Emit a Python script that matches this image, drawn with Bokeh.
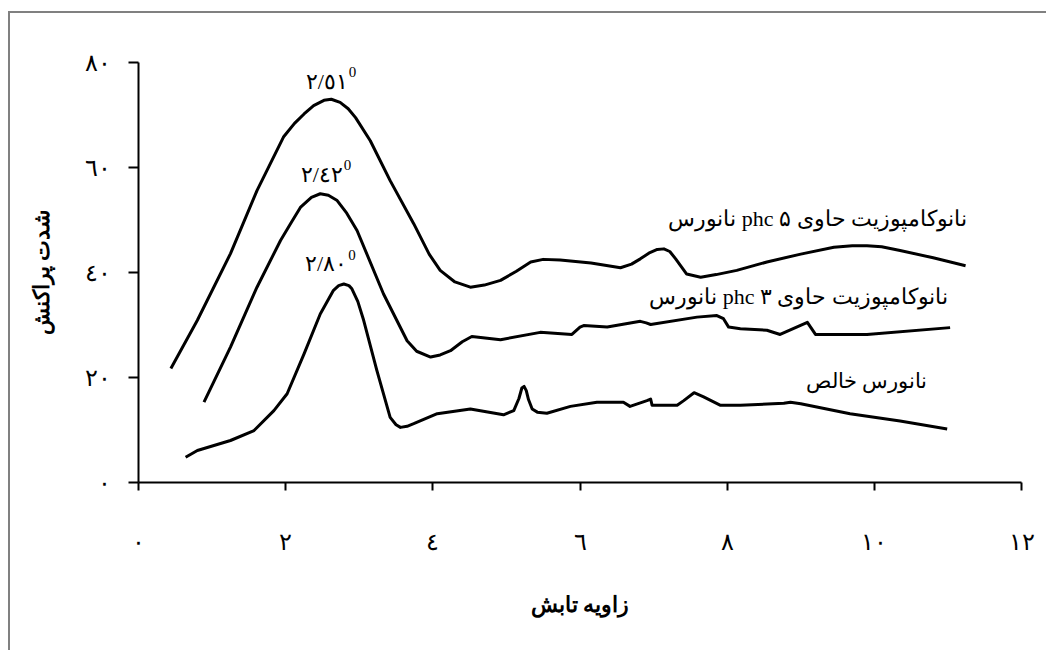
from bokeh.plotting import figure
from bokeh.models import Range1d, FixedTicker
from bokeh.core.properties import value
from bokeh.embed import file_html
from bokeh.resources import INLINE

# ---- data ----
x_5phc = [0.44, 0.80, 1.25, 1.61, 1.97, 2.12, 2.25, 2.38, 2.52, 2.62, 2.74, 2.85, 2.95, 3.15, 3.42,
          3.74, 3.95, 4.10, 4.30, 4.51, 4.70, 4.92, 5.13, 5.33, 5.50, 5.73, 6.15, 6.55, 6.70, 6.82,
          6.95, 7.05, 7.14, 7.22, 7.30, 7.45, 7.64, 7.85, 8.13, 8.54, 9.00, 9.45, 9.70, 9.90, 10.10,
          10.35, 10.80, 11.24]
y_5phc = [21.7, 30.9, 43.6, 55.6, 65.8, 68.4, 70.2, 71.8, 72.8, 73.0, 72.4, 71.2, 69.5, 65.1, 57.5,
          49.3, 43.5, 40.4, 38.2, 37.2, 37.6, 38.5, 40.2, 42.0, 42.5, 42.4, 41.8, 40.9, 41.6, 42.6,
          43.8, 44.4, 44.5, 44.0, 42.6, 39.7, 39.1, 39.6, 40.4, 42.0, 43.5, 44.8, 45.1, 45.1, 44.9,
          44.2, 42.8, 41.3]

x_3phc = [0.89, 1.25, 1.61, 1.93, 2.08, 2.20, 2.35, 2.47, 2.58, 2.70, 2.83, 2.97, 3.33, 3.65, 3.78,
          3.97, 4.10, 4.24, 4.40, 4.53, 4.92, 5.46, 5.89, 6.00, 6.05, 6.37, 6.82, 6.90, 6.96, 7.59,
          7.86, 7.95, 8.02, 8.18, 8.54, 8.72, 9.09, 9.20, 9.90, 11.03]
y_3phc = [15.3, 25.8, 37.2, 46.1, 49.6, 52.4, 54.3, 55.0, 54.7, 53.7, 51.3, 48.0, 35.9, 27.0, 25.0,
          23.9, 24.3, 25.1, 26.8, 27.8, 27.2, 28.6, 28.2, 29.6, 29.9, 29.6, 30.7, 30.4, 30.1, 31.5,
          31.8, 31.2, 29.6, 29.3, 29.0, 28.2, 30.5, 28.2, 28.2, 29.5]

x_neat = [0.64, 0.80, 1.25, 1.57, 1.84, 2.02, 2.25, 2.47, 2.65, 2.72, 2.79, 2.86, 2.90, 2.98, 3.06,
          3.24, 3.42, 3.50, 3.56, 3.65, 3.74, 4.06, 4.51, 4.96, 5.10, 5.17, 5.21, 5.24, 5.27, 5.30,
          5.35, 5.42, 5.55, 5.87, 6.23, 6.59, 6.68, 6.91, 6.96, 6.98, 7.32, 7.41, 7.55, 7.68, 7.91,
          8.18, 8.77, 8.86, 9.00, 9.67, 10.35, 10.99]
y_neat = [4.8, 6.1, 8.0, 9.9, 13.7, 16.9, 24.5, 32.1, 36.6, 37.5, 37.8, 37.5, 36.9, 34.5, 30.9,
          21.3, 12.4, 11.0, 10.5, 10.7, 11.2, 13.1, 14.0, 12.9, 13.7, 16.0, 18.0, 18.3, 17.5, 15.8,
          14.0, 13.4, 13.2, 14.5, 15.3, 15.3, 14.5, 15.6, 15.9, 14.7, 14.7, 15.6, 17.1, 16.3, 14.7,
          14.7, 15.1, 15.3, 15.0, 13.1, 11.7, 10.2]

x_ticks = [0, 2, 4, 6, 8, 10, 12]
x_tick_labels = ["٠", "٢", "٤", "٦", "٨", "١٠", "١٢"]
y_ticks = [0, 20, 40, 60, 80]
y_tick_labels = ["٠", "٢٠", "٤٠", "٦٠", "٨٠"]

x_title = "زاویه تابش"
y_title = "شدت پراکنش"

series_names = ["نانوکامپوزیت حاوی phc ۵ نانورس",
                "نانوکامپوزیت حاوی phc ۳ نانورس",
                "نانورس خالص"]
name_x = [11.26, 11.00, 10.72]
name_y = [50.3, 35.4, 19.4]

peak_texts = ["٢/٥١", "٢/٤٢", "٢/٨٠"]
peak_sup = ["0", "0", "0"]
peak_x = [2.56, 2.49, 2.55]
peak_y = [76.4, 58.7, 41.7]

FONT = "Liberation Serif"

p = figure(width=1038, height=639, x_range=Range1d(0, 12), y_range=Range1d(0, 80),
           output_backend="svg", toolbar_location=None,
           min_border_left=128, min_border_right=27, min_border_top=49, min_border_bottom=170)
p.styles = {"border-top": "2px solid #808080", "border-left": "2px solid #808080",
            "margin-top": "11px", "margin-left": "8px"}
p.background_fill_color = "white"
p.border_fill_color = "white"
p.outline_line_color = None
p.xgrid.visible = False
p.ygrid.visible = False

for ax in (p.xaxis, p.yaxis):
    ax.axis_line_width = 2
    ax.axis_line_color = "black"
    ax.major_tick_line_width = 2
    ax.major_tick_line_color = "black"
    ax.major_tick_in = 0
    ax.minor_tick_line_color = None
    ax.major_label_text_font = FONT
    ax.major_label_text_font_size = "24px"
    ax.major_label_text_color = "black"
    ax.axis_label_text_font = FONT
    ax.axis_label_text_font_size = "22px"
    ax.axis_label_text_font_style = "bold"
    ax.axis_label_text_color = "black"

p.xaxis.ticker = FixedTicker(ticks=x_ticks)
p.xaxis.major_label_overrides = dict(zip(x_ticks, x_tick_labels))
p.xaxis.major_tick_out = 8
p.xaxis.major_label_standoff = 38
p.xaxis.axis_label = x_title
p.xaxis.axis_label_standoff = 34

p.yaxis.ticker = FixedTicker(ticks=y_ticks)
p.yaxis.major_label_overrides = dict(zip(y_ticks, y_tick_labels))
p.yaxis.major_tick_out = 10
p.yaxis.major_label_standoff = 18
p.yaxis.axis_label = y_title
p.yaxis.axis_label_standoff = 28

for xs, ys in ((x_5phc, y_5phc), (x_3phc, y_3phc), (x_neat, y_neat)):
    p.line(xs, ys, line_color="black", line_width=3, line_join="round")

p.text(x=name_x, y=name_y, text=["\u202b" + s + "\u202c" for s in series_names],
       text_font=value(FONT), text_font_size=["22px", "22px", "21px"], text_color="black",
       text_align="right", text_baseline="middle")

p.text(x=peak_x, y=peak_y, text=peak_texts, text_font=value(FONT), text_font_size="22px",
       text_color="black", text_align="center", text_baseline="middle")
p.text(x=peak_x, y=peak_y, text=peak_sup, text_font=value(FONT), text_font_size="15px",
       text_color="black", text_align="left", text_baseline="middle", x_offset=22, y_offset=-9)

open("out.html", "w").write(file_html(p, INLINE))
